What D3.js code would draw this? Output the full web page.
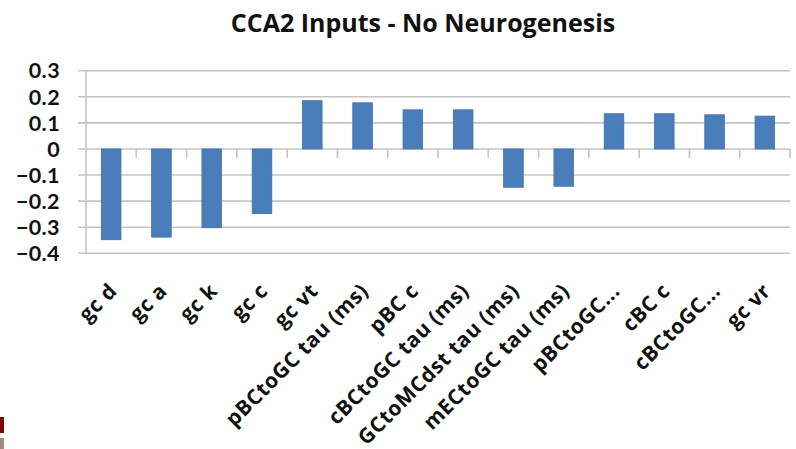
<!DOCTYPE html>
<html><head><meta charset="utf-8">
<script src="https://cdn.jsdelivr.net/npm/d3@7"></script>
<style>body{margin:0;background:#fff}svg{display:block}</style>
</head><body>
<script>
const categories = ["gc d","gc a","gc k","gc c","gc vt","pBCtoGC tau (ms)","pBC c","cBCtoGC tau (ms)","GCtoMCdst tau (ms)","mECtoGC tau (ms)","pBCtoGC...","cBC c","cBCtoGC...","gc vr"];
const values = [-0.348,-0.338,-0.302,-0.248,0.185,0.177,0.150,0.150,-0.147,-0.143,0.135,0.135,0.131,0.126];
const yTicks = [0.3,0.2,0.1,0,-0.1,-0.2,-0.3,-0.4];
const title = "CCA2 Inputs - No Neurogenesis";

const W = 796, H = 449;
const m = {left: 86, right: 6, top: 70.7, bottom: 195.7};
const svg = d3.select("body").append("svg").attr("width", W).attr("height", H);

const x = d3.scaleBand().domain(categories).range([m.left, W - m.right]).paddingInner(0.61).paddingOuter(0.305);
const xb = d3.scaleBand().domain(categories).range([m.left, W - m.right]);
const y = d3.scaleLinear().domain([-0.4, 0.3]).range([H - m.bottom, m.top]);

// gridlines
svg.append("g").selectAll("line").data(yTicks).join("line")
  .attr("x1", m.left - 8).attr("x2", W - m.right)
  .attr("y1", d => y(d)).attr("y2", d => y(d))
  .attr("stroke", "#c4c4c4").attr("stroke-width", 1.6);

// y axis line
svg.append("line").attr("x1", m.left).attr("x2", m.left)
  .attr("y1", y(0.3)).attr("y2", y(-0.4)).attr("stroke", "#c4c4c4").attr("stroke-width", 1.6);

// y labels
svg.append("g").selectAll("text").data(yTicks).join("text")
  .attr("x", 60).attr("y", d => y(d)).attr("dy", "0.36em")
  .attr("text-anchor", "end")
  .attr("font-family", "Lato, sans-serif").attr("font-weight", "bold").attr("font-size", 21.5)
  .attr("letter-spacing", 0.4)
  .attr("fill", "#111")
  .text(d => d === 0 ? "0" : d3.format(".1f")(d));

// x ticks on zero line
svg.append("g").selectAll("line").data(categories).join("line")
  .attr("x1", d => xb(d) + xb.step())
  .attr("x2", d => xb(d) + xb.step())
  .attr("y1", y(0)).attr("y2", y(0) + 9)
  .attr("stroke", "#c4c4c4").attr("stroke-width", 1.6);

// bars
svg.append("g").selectAll("rect").data(values).join("rect")
  .attr("x", (d, i) => x(categories[i]))
  .attr("width", x.bandwidth())
  .attr("y", d => y(Math.max(0, d)))
  .attr("height", d => Math.abs(y(d) - y(0)))
  .attr("fill", "#4a7ebb").attr("stroke", "#3f70ab").attr("stroke-width", 0.8);

// x labels
svg.append("g").selectAll("text").data(categories).join("text")
  .attr("transform", d => `translate(${xb(d) + xb.bandwidth() / 2 + 7},${H - m.bottom + 39}) rotate(-45)`)
  .attr("text-anchor", "end")
  .attr("font-family", "Open Sans, sans-serif").attr("font-weight", "bold").attr("font-size", 21)
  .attr("letter-spacing", 0.5)
  .attr("fill", "#111")
  .text(d => d);

// title
svg.append("text").attr("x", 423).attr("y", 32).attr("text-anchor", "middle")
  .attr("font-family", "Open Sans, sans-serif").attr("font-weight", "bold").attr("font-size", 25)
  .attr("fill", "#111").text(title);

// cropped artifacts at bottom-left
svg.append("rect").attr("x", 0).attr("y", 417).attr("width", 4).attr("height", 16).attr("fill", "#7a0a0a");
svg.append("rect").attr("x", 0).attr("y", 438).attr("width", 4).attr("height", 11).attr("fill", "#a08c78");
</script>
</body></html>
